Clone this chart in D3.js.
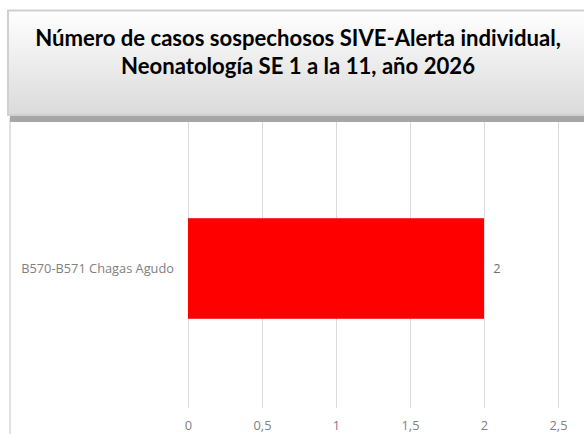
<!DOCTYPE html>
<html><head><meta charset="utf-8">
<script src="https://cdn.jsdelivr.net/npm/d3@7"></script>
<style>html,body{margin:0;padding:0;background:#fff;}svg{display:block;}</style>
</head><body>
<script>
const titleLines = ["Número de casos sospechosos SIVE-Alerta individual,", "Neonatología SE 1 a la 11, año 2026"];
const categories = ["B570-B571 Chagas Agudo"];
const values = [2];
const tickValues = [0, 0.5, 1, 1.5, 2, 2.5];

const W = 584, H = 434;
const svg = d3.select("body").append("svg").attr("width", W).attr("height", H);
const defs = svg.append("defs");
const grad = defs.append("linearGradient").attr("id","tg").attr("x1",0).attr("y1",0).attr("x2",0).attr("y2",1);
grad.append("stop").attr("offset","0%").attr("stop-color","#ffffff");
grad.append("stop").attr("offset","100%").attr("stop-color","#dadada");

const x = d3.scaleLinear().domain([0, 2.5]).range([188, 558]);
const y = d3.scaleBand().domain(categories).range([129, 408]).padding(0.47);

const AX_FONT = "'Open Sans', sans-serif";
let AX_SIZE = 10;

// chart-area left border
svg.append("line").attr("x1",10).attr("x2",10).attr("y1",118).attr("y2",H).attr("stroke","#d9d9d9").attr("stroke-width",1.5);

// gridlines
svg.append("g").selectAll("line").data(tickValues).join("line")
  .attr("x1", d => Math.round(x(d)) + 0.5).attr("x2", d => Math.round(x(d)) + 0.5)
  .attr("y1", 118).attr("y2", 408)
  .attr("stroke", "#d9d9d9").attr("stroke-width", 1);

// bars
svg.append("g").selectAll("rect").data(values).join("rect")
  .attr("x", x(0)).attr("y", (d,i) => y(categories[i]))
  .attr("width", d => x(d) - x(0)).attr("height", y.bandwidth())
  .attr("fill", "#ff0000");

// category axis labels
const cl = svg.append("g").selectAll("text").data(categories).join("text")
  .attr("x", 174).attr("y", d => y(d) + y.bandwidth()/2)
  .attr("dy","0.35em").attr("text-anchor","end")
  .attr("font-family",AX_FONT).attr("font-size", AX_SIZE).attr("fill","#808080")
  .text(d => d);
// fit axis font size to reference label width
AX_SIZE = AX_SIZE * 153 / cl.node().getComputedTextLength();
cl.attr("font-size", AX_SIZE);

// value labels
svg.append("g").selectAll("text").data(values).join("text")
  .attr("x", d => x(d) + 13).attr("y", (d,i) => y(categories[i]) + y.bandwidth()/2)
  .attr("dy","0.35em").attr("text-anchor","middle")
  .attr("font-family",AX_FONT).attr("font-size", AX_SIZE).attr("fill","#707070")
  .text(d => String(d).replace(".", ","));

// x axis tick labels
const fmt = d => String(d).replace(".", ",");
svg.append("g").attr("transform","translate(0,425.5)")
  .call(d3.axisBottom(x).tickValues(tickValues).tickSize(0).tickFormat(fmt))
  .call(g => g.select(".domain").remove())
  .call(g => g.selectAll("text").attr("y",0).attr("dy","0.35em")
    .attr("font-family",AX_FONT).attr("font-size",AX_SIZE).attr("fill","#808080"));

// title box with shadow
svg.append("rect").attr("x",10).attr("y",114).attr("width",W).attr("height",8).attr("fill","#a6a6a6");
svg.append("rect").attr("x",8).attr("y",10.5).attr("width",W).attr("height",104.5)
  .attr("fill","url(#tg)").attr("stroke","#d0d0d0").attr("stroke-width",2);

const tt = svg.append("g");
const tnodes = titleLines.map((t,i) =>
  tt.append("text").attr("x", 298).attr("y", 45.5 + i*28.5)
    .attr("text-anchor","middle").attr("font-family","Lato, sans-serif")
    .attr("font-weight","bold").attr("font-size",19).attr("fill","#000").text(t));
// fit title font size to the reference's first-line width
const w0 = tnodes[0].node().getComputedTextLength();
const fs = 19 * 526 / w0;
tnodes.forEach(n => n.attr("font-size", fs));
</script>
</body></html>
